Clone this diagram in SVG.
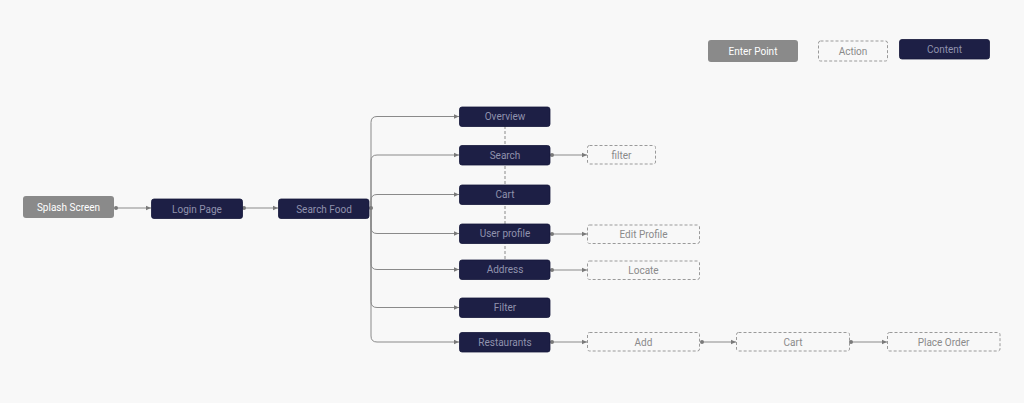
<svg xmlns="http://www.w3.org/2000/svg" width="1024" height="403" viewBox="0 0 1024 403">
<defs>
<marker id="arr" markerWidth="6" markerHeight="6" refX="5" refY="3" orient="auto" markerUnits="userSpaceOnUse">
<path d="M0,0.8 L5,3 L0,5.2 Z" fill="#7a7a7a"/>
</marker>
<marker id="dot" markerWidth="6" markerHeight="6" refX="3" refY="3" markerUnits="userSpaceOnUse">
<circle cx="3" cy="3" r="2" fill="#7a7a7a"/>
</marker>
</defs>
<style>
.bg{fill:#f8f8f8}
.content rect{fill:#1d1f45;stroke:#14163a;stroke-width:0.8}
.content text{fill:#9092ad}
.action rect{fill:none;stroke:#9a9a9a;stroke-width:1;stroke-dasharray:3,2}
.action text{fill:#8a8a8a}
.enter rect{fill:#8a8a8a}
.enter text{fill:#ffffff}
text{font-family:Roboto,"Liberation Sans",sans-serif;font-size:10px;text-anchor:middle;dominant-baseline:central}
.conn path{fill:none;stroke:#8a8a8a;stroke-width:1}
.conn .e{marker-start:url(#dot);marker-end:url(#arr)}
.conn .b{marker-end:url(#arr)}
.conn .d{stroke-dasharray:3,2}
</style>
<rect class="bg" x="0" y="0" width="1024" height="403"/>

<g id="legend">
<g id="legend-enter" class="enter"><rect x="708" y="40" width="90" height="22" rx="3"/><text x="753" y="51">Enter Point</text></g>
<g id="legend-action" class="action"><rect x="818.5" y="41" width="69" height="20" rx="2"/><text x="853" y="51">Action</text></g>
<g id="legend-content" class="content"><rect x="899.5" y="39.5" width="90" height="19.5" rx="2.5"/><text x="944.5" y="49">Content</text></g>
</g>

<g id="connectors" class="conn">
<path class="d" d="M505,126 V260"/>
<path class="e" d="M116,208 H151"/>
<path class="e" d="M244,208 H278"/>
<path class="b" d="M371,208 V122.5 Q371,116.5 377,116.5 H459"/>
<path class="b" d="M371,208 V161 Q371,155 377,155 H459"/>
<path class="b" d="M371,208 V200.5 Q371,194.5 377,194.5 H459"/>
<path class="b" d="M371,208 V227.5 Q371,233.5 377,233.5 H459"/>
<path class="b" d="M371,208 V263.5 Q371,269.5 377,269.5 H459"/>
<path class="b" d="M371,208 V301.5 Q371,307.5 377,307.5 H459"/>
<path class="b" d="M371,208 V336 Q371,342 377,342 H459"/>
<circle cx="371" cy="208" r="2" fill="#7a7a7a"/>
<path class="e" d="M552,155 H587"/>
<path class="e" d="M552,234 H587"/>
<path class="e" d="M552,270 H587"/>
<path class="e" d="M552,342 H587"/>
<path class="e" d="M702,342 H736"/>
<path class="e" d="M851,342 H887"/>
</g>

<g id="splash" class="enter"><rect x="23" y="196" width="91" height="22" rx="3"/><text x="68.5" y="207">Splash Screen</text></g>
<g id="login" class="content"><rect x="151.5" y="199" width="91" height="19.5" rx="2.5"/><text x="197" y="209">Login Page</text></g>
<g id="searchfood" class="content"><rect x="278.5" y="199" width="90.5" height="19.5" rx="2.5"/><text x="324" y="209">Search Food</text></g>

<g id="overview" class="content"><rect x="459.5" y="107" width="90.5" height="19.5" rx="2.5"/><text x="505" y="116.5">Overview</text></g>
<g id="search" class="content"><rect x="459.5" y="145.5" width="90.5" height="19.5" rx="2.5"/><text x="505" y="155">Search</text></g>
<g id="cart" class="content"><rect x="459.5" y="185" width="90.5" height="19.5" rx="2.5"/><text x="505" y="194.5">Cart</text></g>
<g id="userprofile" class="content"><rect x="459.5" y="224" width="90.5" height="19.5" rx="2.5"/><text x="505" y="233.5">User profile</text></g>
<g id="address" class="content"><rect x="459.5" y="260" width="90.5" height="19.5" rx="2.5"/><text x="505" y="269.5">Address</text></g>
<g id="filter" class="content"><rect x="459.5" y="298" width="90.5" height="19.5" rx="2.5"/><text x="505" y="307.5">Filter</text></g>
<g id="restaurants" class="content"><rect x="459.5" y="332.5" width="90.5" height="19.5" rx="2.5"/><text x="505" y="342">Restaurants</text></g>

<g id="filter-action" class="action"><rect x="587.5" y="145.5" width="68" height="18.5" rx="2"/><text x="621.5" y="155">filter</text></g>
<g id="editprofile" class="action"><rect x="587.5" y="225" width="112" height="18.5" rx="2"/><text x="643.5" y="234">Edit Profile</text></g>
<g id="locate" class="action"><rect x="587.5" y="261" width="112" height="18.5" rx="2"/><text x="643.5" y="270">Locate</text></g>
<g id="add" class="action"><rect x="587.5" y="332.5" width="112" height="18.5" rx="2"/><text x="643.5" y="342">Add</text></g>
<g id="cart-action" class="action"><rect x="736.5" y="332.5" width="113" height="18.5" rx="2"/><text x="793" y="342">Cart</text></g>
<g id="placeorder" class="action"><rect x="887.5" y="332.5" width="112.5" height="18.5" rx="2"/><text x="943.5" y="342">Place Order</text></g>
</svg>
